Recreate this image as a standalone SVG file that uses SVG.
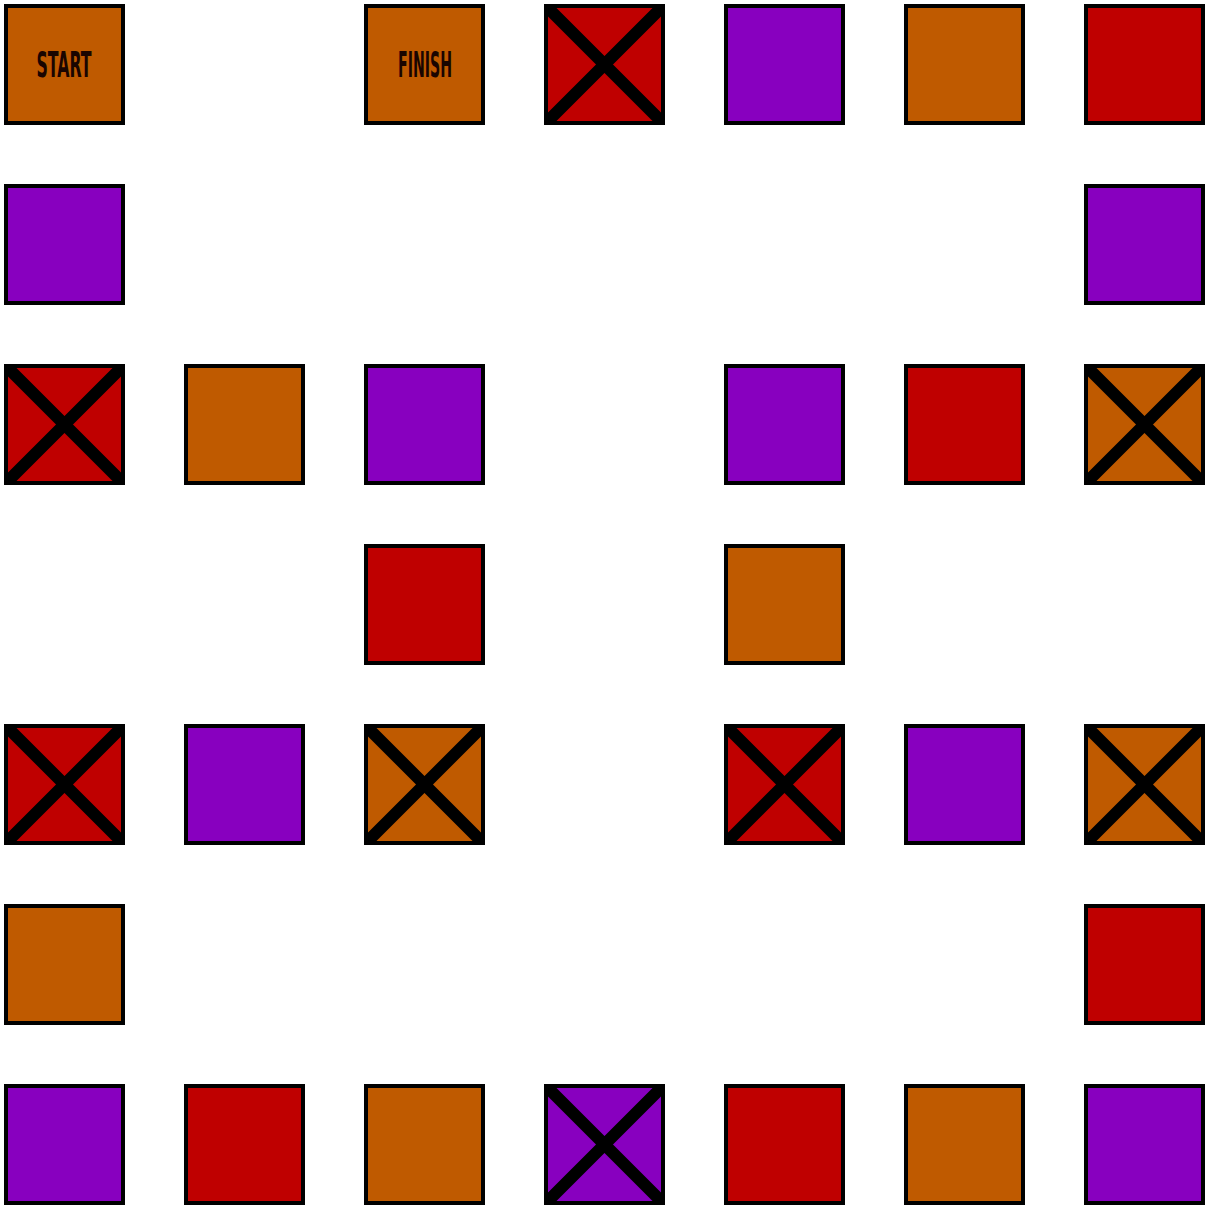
<svg xmlns="http://www.w3.org/2000/svg" width="1206" height="1210" viewBox="0 0 1206 1210">
<style>
.t{stroke:#000;stroke-width:4}
.o{fill:#bf5a00}
.r{fill:#bf0000}
.p{fill:#8800bf}
.x{stroke:#000;stroke-width:12;stroke-linecap:square;clip-path:url(#cl)}
.lbl{font-family:"Liberation Sans Narrow","DejaVu Sans Condensed","Liberation Sans",sans-serif;font-weight:bold;font-size:35px;fill:#1a0500;text-anchor:middle}
</style>
<defs>
<clipPath id="cl"><rect x="4" y="4" width="121" height="121"/></clipPath>
<rect id="sq" x="6" y="6" width="117" height="117"/>
<path id="xx" d="M6 6L123 123M123 6L6 123"/>
</defs>
<rect width="1206" height="1210" fill="#fff"/>
<g id="connectors"/>
<!-- row 0 -->
<g id="n-start" transform="translate(0,0)"><use href="#sq" class="t o"/><text class="lbl" x="64" y="77" textLength="55" lengthAdjust="spacingAndGlyphs">START</text></g>
<g id="n-finish" transform="translate(360,0)"><use href="#sq" class="t o"/><text class="lbl" x="65" y="77" textLength="54" lengthAdjust="spacingAndGlyphs">FINISH</text></g>
<g id="n-0-3" transform="translate(540,0)"><use href="#sq" class="t r"/><use href="#xx" class="x"/></g>
<g id="n-0-4" transform="translate(720,0)"><use href="#sq" class="t p"/></g>
<g id="n-0-5" transform="translate(900,0)"><use href="#sq" class="t o"/></g>
<g id="n-0-6" transform="translate(1080,0)"><use href="#sq" class="t r"/></g>
<!-- row 1 -->
<g id="n-1-0" transform="translate(0,180)"><use href="#sq" class="t p"/></g>
<g id="n-1-6" transform="translate(1080,180)"><use href="#sq" class="t p"/></g>
<!-- row 2 -->
<g id="n-2-0" transform="translate(0,360)"><use href="#sq" class="t r"/><use href="#xx" class="x"/></g>
<g id="n-2-1" transform="translate(180,360)"><use href="#sq" class="t o"/></g>
<g id="n-2-2" transform="translate(360,360)"><use href="#sq" class="t p"/></g>
<g id="n-2-4" transform="translate(720,360)"><use href="#sq" class="t p"/></g>
<g id="n-2-5" transform="translate(900,360)"><use href="#sq" class="t r"/></g>
<g id="n-2-6" transform="translate(1080,360)"><use href="#sq" class="t o"/><use href="#xx" class="x"/></g>
<!-- row 3 -->
<g id="n-3-2" transform="translate(360,540)"><use href="#sq" class="t r"/></g>
<g id="n-3-4" transform="translate(720,540)"><use href="#sq" class="t o"/></g>
<!-- row 4 -->
<g id="n-4-0" transform="translate(0,720)"><use href="#sq" class="t r"/><use href="#xx" class="x"/></g>
<g id="n-4-1" transform="translate(180,720)"><use href="#sq" class="t p"/></g>
<g id="n-4-2" transform="translate(360,720)"><use href="#sq" class="t o"/><use href="#xx" class="x"/></g>
<g id="n-4-4" transform="translate(720,720)"><use href="#sq" class="t r"/><use href="#xx" class="x"/></g>
<g id="n-4-5" transform="translate(900,720)"><use href="#sq" class="t p"/></g>
<g id="n-4-6" transform="translate(1080,720)"><use href="#sq" class="t o"/><use href="#xx" class="x"/></g>
<!-- row 5 -->
<g id="n-5-0" transform="translate(0,900)"><use href="#sq" class="t o"/></g>
<g id="n-5-6" transform="translate(1080,900)"><use href="#sq" class="t r"/></g>
<!-- row 6 -->
<g id="n-6-0" transform="translate(0,1080)"><use href="#sq" class="t p"/></g>
<g id="n-6-1" transform="translate(180,1080)"><use href="#sq" class="t r"/></g>
<g id="n-6-2" transform="translate(360,1080)"><use href="#sq" class="t o"/></g>
<g id="n-6-3" transform="translate(540,1080)"><use href="#sq" class="t p"/><use href="#xx" class="x"/></g>
<g id="n-6-4" transform="translate(720,1080)"><use href="#sq" class="t r"/></g>
<g id="n-6-5" transform="translate(900,1080)"><use href="#sq" class="t o"/></g>
<g id="n-6-6" transform="translate(1080,1080)"><use href="#sq" class="t p"/></g>
</svg>
